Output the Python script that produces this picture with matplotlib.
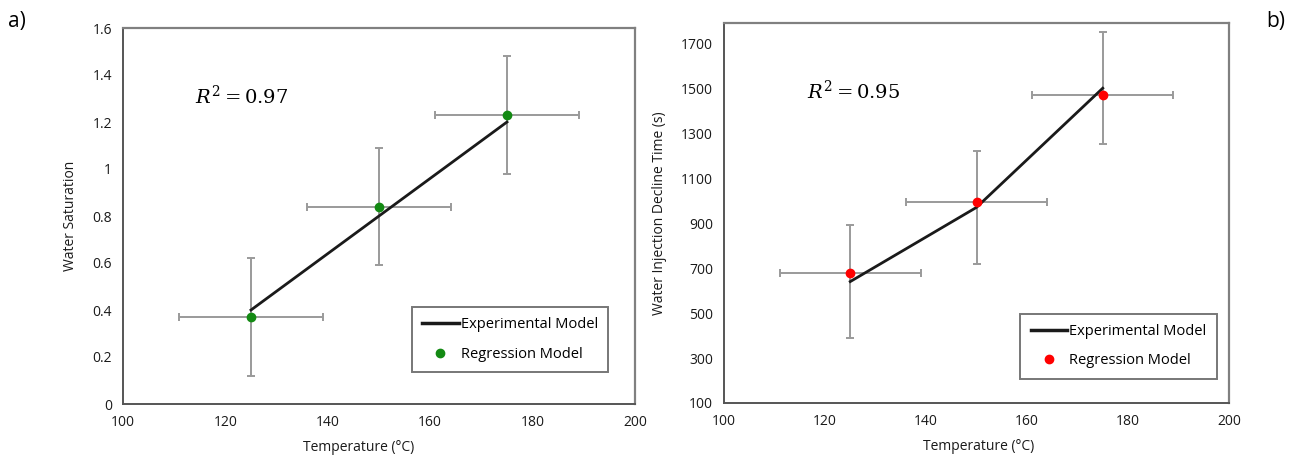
import matplotlib
matplotlib.use("Agg")
import matplotlib.pyplot as plt
from matplotlib.lines import Line2D

# ---- data ----
temps = [125, 150, 175]
x_err = [14, 14, 14]

# panel a
sat_experimental = [0.40, 0.80, 1.20]
sat_regression = [0.37, 0.84, 1.23]
sat_err = [0.25, 0.25, 0.25]
sat_r2 = "$R^2 = 0.97$"

# panel b
time_experimental = [640, 970, 1500]
time_regression = [680, 995, 1470]
time_err = [250, 250, 250]
time_r2 = "$R^2 = 0.95$"

x_ticks = [100, 120, 140, 160, 180, 200]
sat_ticks = [0, 0.2, 0.4, 0.6, 0.8, 1.0, 1.2, 1.4, 1.6]
sat_ticklabels = ["0", "0.2", "0.4", "0.6", "0.8", "1", "1.2", "1.4", "1.6"]
time_ticks = [100, 300, 500, 700, 900, 1100, 1300, 1500, 1700]

plt.rcParams['font.family'] = ['Open Sans', 'DejaVu Sans']
plt.rcParams['mathtext.fontset'] = 'dejavuserif'

fig = plt.figure(figsize=(12.99, 4.67), dpi=100)
W, H = 1299, 467

def px_axes(l, t, r, b):
    return fig.add_axes([l / W, 1 - b / H, (r - l) / W, (b - t) / H])

ax1 = px_axes(123, 28, 635, 404)
ax2 = px_axes(724, 23, 1229, 403)

err_color = '#9a9a9a'
txt_color = '#1a1a1a'

def style(ax):
    for s in ['top', 'right']:
        ax.spines[s].set_color('#808080')
        ax.spines[s].set_linewidth(1.6)
    for s in ['left', 'bottom']:
        ax.spines[s].set_color('#555555')
        ax.spines[s].set_linewidth(1.4)
    ax.tick_params(length=0, labelsize=10, pad=8, labelcolor=txt_color)
    ax.set_xlim(100, 200)
    ax.set_xticks(x_ticks)

# panel a
ax1.errorbar(temps, sat_regression, yerr=sat_err, xerr=x_err, fmt='none',
             ecolor=err_color, elinewidth=1.4, capsize=3, capthick=1.4, zorder=1)
ax1.plot(temps, sat_experimental, color='#1a1a1a', lw=2, zorder=2)
ax1.plot(temps, sat_regression, 'o', color='#138a13', ms=6, zorder=3)
ax1.set_ylim(0, 1.6)
ax1.set_yticks(sat_ticks)
ax1.set_yticklabels(sat_ticklabels)
style(ax1)
ax1.set_xlabel('Temperature (°C)', fontsize=10, labelpad=10, color=txt_color)
ax1.xaxis.set_label_coords(0.46, -0.095)
ax1.set_ylabel('Water Saturation', fontsize=10, labelpad=10, color=txt_color)
ax1.text(114, 1.31, sat_r2, fontsize=14, va='center')

h1 = [Line2D([], [], color='#1a1a1a', lw=2.5),
      Line2D([], [], marker='o', ls='none', color='#138a13', ms=6)]
leg1 = ax1.legend(h1, ['Experimental Model', 'Regression Model'],
                  loc='lower right', bbox_to_anchor=(0.962, 0.065),
                  fontsize=10.5, frameon=True, fancybox=False, borderpad=0.7,
                  labelspacing=1.0, handlelength=2.5, handletextpad=0.15)
leg1.get_frame().set_edgecolor('#555555')
leg1.get_frame().set_linewidth(1.4)

# panel b
ax2.errorbar(temps, time_experimental, yerr=time_err, fmt='none',
             ecolor=err_color, elinewidth=1.4, capsize=3, capthick=1.4, zorder=1)
ax2.errorbar(temps, time_regression, xerr=x_err, fmt='none',
             ecolor=err_color, elinewidth=1.4, capsize=3, capthick=1.4, zorder=1)
ax2.plot(temps, time_experimental, color='#1a1a1a', lw=2, zorder=2)
ax2.plot(temps, time_regression, 'o', color='#ff0000', ms=6, zorder=3)
ax2.set_ylim(100, 1790)
ax2.set_yticks(time_ticks)
style(ax2)
ax2.set_xlabel('Temperature (°C)', fontsize=10, labelpad=10, color=txt_color)
ax2.xaxis.set_label_coords(0.505, -0.095)
ax2.set_ylabel('Water Injection Decline Time (s)', fontsize=10, labelpad=10,
               color=txt_color)
ax2.text(116.5, 1485, time_r2, fontsize=14, va='center')

h2 = [Line2D([], [], color='#1a1a1a', lw=2.5),
      Line2D([], [], marker='o', ls='none', color='#ff0000', ms=6)]
leg2 = ax2.legend(h2, ['Experimental Model', 'Regression Model'],
                  loc='lower right', bbox_to_anchor=(0.99, 0.045),
                  fontsize=10.5, frameon=True, fancybox=False, borderpad=0.7,
                  labelspacing=1.0, handlelength=2.5, handletextpad=0.15)
leg2.get_frame().set_edgecolor('#555555')
leg2.get_frame().set_linewidth(1.4)

fig.text(8 / W, 1 - 22 / H, 'a)', fontsize=15, va='center', ha='left')
fig.text(1266 / W, 1 - 22 / H, 'b)', fontsize=15, va='center', ha='left')

fig.savefig('out.png', dpi=100, facecolor='white')
